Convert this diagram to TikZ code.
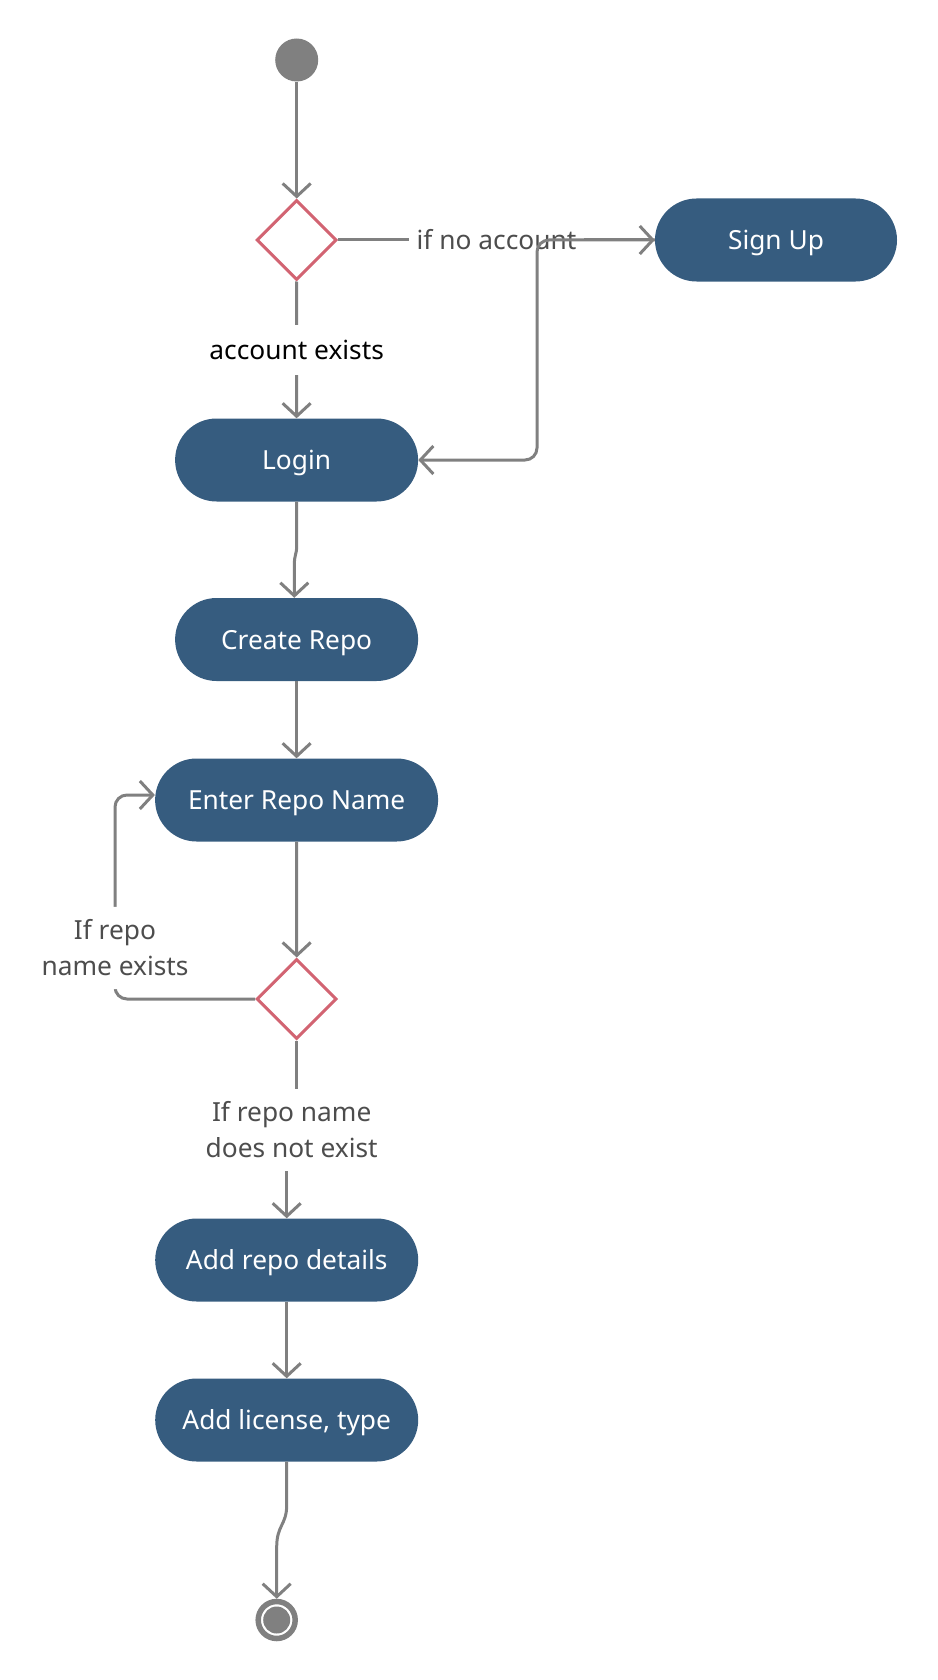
\documentclass[tikz,border=0pt]{standalone}
\usepackage{fontspec}
\setmainfont{Noto Sans}
\usetikzlibrary{shapes.geometric,arrows.meta}
\definecolor{nodeblue}{HTML}{365C7F}
\definecolor{decred}{HTML}{D26472}
\definecolor{conngray}{HTML}{808080}
\definecolor{lblgray}{HTML}{4D4D4D}
\begin{document}
\begin{tikzpicture}[x=1pt,y=-1pt,
  font=\fontsize{26.3}{36}\selectfont,
  act/.style={rectangle, rounded corners=41.5pt, fill=nodeblue, text=white, minimum height=83pt, inner sep=0pt, text height=19pt, text depth=0pt},
  decision/.style={diamond, aspect=1, draw=decred, line width=3pt, fill=white, minimum width=80pt, minimum height=80pt, inner sep=0pt},
  startst/.style={circle, fill=conngray, minimum size=43pt, inner sep=0pt},
  endst/.style={circle, draw=conngray, line width=5.5pt, minimum size=37pt, inner sep=0pt,
    path picture={\fill[conngray] (path picture bounding box.center) circle (13.5pt);}},
  conn/.style={draw=conngray, line width=3pt, -{Straight Barb[length=13pt,width=28pt]}},
  lbl/.style={fill=white, text=lblgray, align=center, inner xsep=8pt, inner ysep=13pt}
]
\useasboundingbox (0,0) rectangle (937,1680);

\node[startst] (st) at (296.7,60) {};
\node[decision] (d1) at (296.7,240) {};
\node[act, minimum width=242pt] (su) at (776,240) {Sign Up};
\node[act, minimum width=243pt] (lg) at (296.6,460) {Login};
\node[act, minimum width=243pt] (cr) at (296.6,639.5) {Create Repo};
\node[act, minimum width=283pt] (ern) at (296.6,800) {Enter Repo Name};
\node[decision] (d2) at (296.7,999) {};
\node[act, minimum width=263pt] (ard) at (286.7,1260) {Add repo details};
\node[act, minimum width=263pt] (alt) at (286.7,1420) {Add license, type};
\node[endst] (en) at (276.7,1620) {};

\draw[conn] (st) -- (d1);
\draw[conn] (d1.south) -- node[lbl, text=black, inner ysep=15pt, pos=0.5] {account exists} (lg.north);
\draw[conn] (d1.east) -- node[lbl] {if no account} (su.west);
\draw[conn, rounded corners=12pt] (su.west) -- (537,240) -- (537,460) -- (lg.east);
\draw[conn] (lg.south) -- (296.7,545) .. controls (296.7,556) and (294.3,553) .. (294.3,566) -- ([xshift=-2.3pt]cr.north);
\draw[conn] (cr.south) -- (ern.north);
\draw[conn] (ern.south) -- (d2.north);
\draw[conn, rounded corners=12pt] (d2.west) -- (115,999) -- node[lbl, pos=0.25] {If repo\\name exists} (115,795) -- ([yshift=5pt]ern.west);
\draw[conn] (d2.south) -- (296.7,1130) -- node[lbl] {If repo name\\does not exist} (286.7,1130) -- (ard.north);
\draw[conn] (ard.south) -- (alt.north);
\draw[conn] (alt.south) -- (286.7,1505) .. controls (286.7,1525) and (276.7,1525) .. (276.7,1547) -- (en.north);
\end{tikzpicture}
\end{document}
